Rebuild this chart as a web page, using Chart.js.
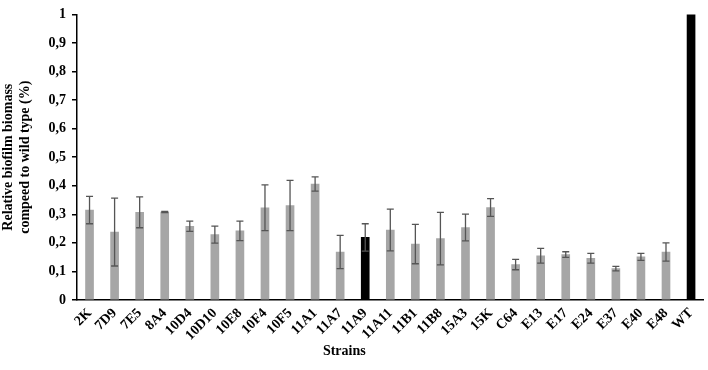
<!DOCTYPE html>
<html>
<head>
<meta charset="utf-8">
<script src="https://cdn.jsdelivr.net/npm/chart.js@4"></script>
<style>
  html, body { margin: 0; padding: 0; background: #fff; }
  #chart { display: block; }
</style>
</head>
<body>
<canvas id="chart" width="708" height="370"></canvas>
<script>
const strains = ["2K", "7D9", "7E5", "8A4", "10D4", "10D10", "10E8", "10F4", "10F5", "11A1", "11A7", "11A9",
  "11A11", "11B1", "11B8", "15A3", "15K", "C64", "E13", "E17", "E24", "E37", "E40", "E48", "WT"];
const biomass = [0.315, 0.238, 0.307, 0.308, 0.258, 0.229, 0.242, 0.323, 0.331, 0.406, 0.168, 0.219,
  0.245, 0.196, 0.215, 0.254, 0.324, 0.124, 0.155, 0.159, 0.146, 0.110, 0.151, 0.168, 1.0];
const errors = [0.048, 0.119, 0.054, 0.002, 0.018, 0.030, 0.034, 0.080, 0.088, 0.025, 0.058, 0.048,
  0.073, 0.069, 0.092, 0.047, 0.031, 0.018, 0.026, 0.010, 0.017, 0.008, 0.012, 0.032, 0];
const highlighted = ["11A9", "WT"];

const serif = "'Liberation Serif', 'Times New Roman', serif";

const errorBarsPlugin = {
    id: "errorBars",
    afterDatasetsDraw: (chart) => {
        const { ctx } = chart;
        const yScale = chart.scales.y;
        const meta = chart.getDatasetMeta(0);
        ctx.save();
        ctx.strokeStyle = "#555555";
        ctx.lineWidth = 1.3;
        meta.data.forEach((bar, i) => {
            const err = errors[i];
            if (!err) return;
            const x = bar.x;
            const top = yScale.getPixelForValue(biomass[i] + err);
            const bottom = yScale.getPixelForValue(biomass[i] - err);
            ctx.beginPath();
            ctx.moveTo(x, top);
            ctx.lineTo(x, bottom);
            ctx.moveTo(x - 3.5, top);
            ctx.lineTo(x + 3.5, top);
            ctx.moveTo(x - 3.5, bottom);
            ctx.lineTo(x + 3.5, bottom);
            ctx.stroke();
        });
        ctx.restore();
    },
};

// x title sits a bit left of the plot centre in the original figure
const xTitlePlugin = {
    id: "xTitle",
    afterDraw: (chart) => {
        const { ctx, chartArea } = chart;
        ctx.save();
        ctx.textAlign = "center";
        ctx.textBaseline = "middle";
        ctx.fillStyle = "#000000";
        ctx.font = "bold 14px " + serif;
        ctx.fillText("Strains", (chartArea.left + chartArea.right) / 2 - 46, chartArea.bottom + 51);
        ctx.restore();
    },
};

new Chart(document.getElementById("chart").getContext("2d"), {
    type: "bar",
    data: {
        labels: strains,
        datasets: [{
            data: biomass,
            backgroundColor: strains.map((s) => highlighted.includes(s) ? "#000000" : "#a6a6a6"),
            barThickness: 8,
            borderWidth: 0,
        }],
    },
    options: {
        responsive: false,
        animation: false,
        layout: { padding: { top: 7, right: 3 } },
        plugins: {
            legend: { display: false },
            tooltip: { enabled: false },
        },
        scales: {
            x: {
                grid: { display: false, drawTicks: false },
                border: { color: "#000000", width: 1.5 },
                ticks: {
                    color: "#000000",
                    font: { family: serif, size: 14, weight: "bold" },
                    minRotation: 45,
                    maxRotation: 45,
                    autoSkip: false,
                    padding: 5,
                },
                afterFit: (scale) => { scale.height = 70; },
            },
            y: {
                min: 0,
                max: 1,
                grid: { display: true, drawOnChartArea: false, tickLength: 5, color: "#000000", lineWidth: 1.5 },
                border: { color: "#000000", width: 1.5 },
                ticks: {
                    stepSize: 0.1,
                    color: "#000000",
                    font: { family: serif, size: 14, weight: "bold" },
                    padding: 6,
                    callback: (v) => String(Math.round(v * 10) / 10).replace(".", ","),
                },
                title: {
                    display: true,
                    text: ["Relative biofilm biomass", "compeed to wild type (%)"],
                    color: "#000000",
                    font: { family: serif, size: 14, weight: "bold" },
                    padding: { top: 0, bottom: 4 },
                },
                afterFit: (scale) => { scale.width = 77; },
            },
        },
    },
    plugins: [errorBarsPlugin, xTitlePlugin],
});
</script>
</body>
</html>
